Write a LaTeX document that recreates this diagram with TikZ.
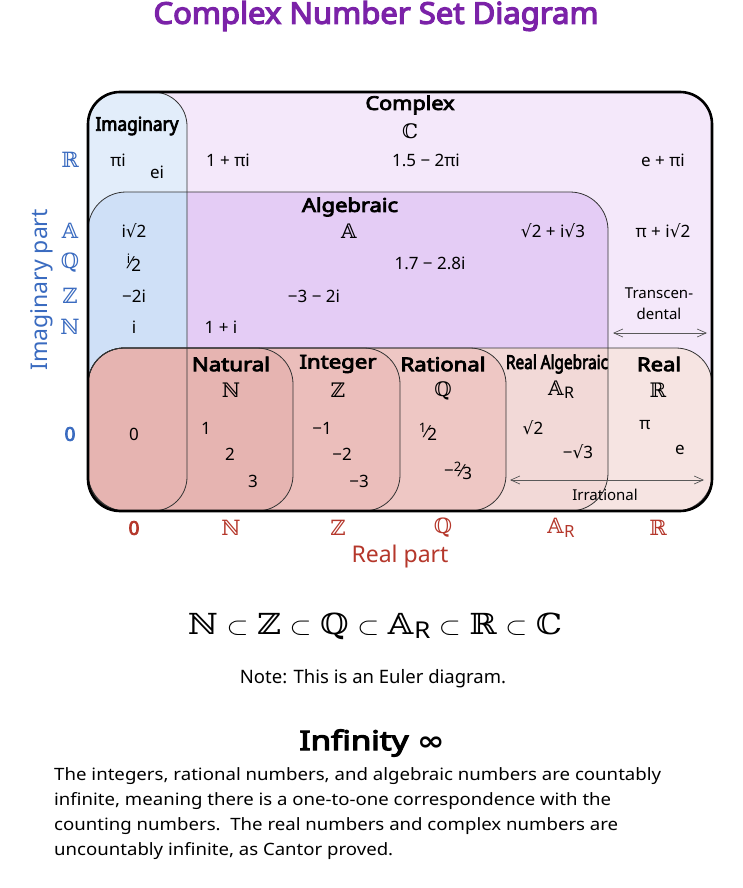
\documentclass[tikz,border=0pt]{standalone}
\usepackage{fontspec}
\usepackage{graphicx}
\setmainfont{Noto Sans}[AutoFakeBold=4]
\newfontfamily\djv{DejaVu Sans}
\newfontfamily\djs{DejaVu Serif}
\usetikzlibrary{arrows.meta}
\definecolor{titlec}{HTML}{7B22A8}
\definecolor{axisb}{HTML}{3A6BC0}
\definecolor{axisr}{HTML}{B5372B}
\definecolor{cplx}{HTML}{F4E8FA}
\definecolor{alg}{HTML}{E4CCF5}
\definecolor{imag}{HTML}{E2EDFA}
\definecolor{imagalg}{HTML}{CFE0F7}
\definecolor{realT}{HTML}{F6E4E2}
\definecolor{realA}{HTML}{F2D9D7}
\definecolor{ratc}{HTML}{EEC7C4}
\definecolor{intc}{HTML}{EBBEBB}
\definecolor{natc}{HTML}{E6B4B1}
\newcommand\sq{{\djv √}}
\newcommand\hw[2]{\resizebox{#1}{\height}{#2}}
\newcommand\vfr[2]{\raisebox{0.5ex}{\fontsize{13}{13}\selectfont #1}\kern-0.8pt{\djv\fontsize{16}{16}\selectfont ⁄}\kern-0.8pt\raisebox{-0.35ex}{\fontsize{17}{17}\selectfont #2}}
\newcommand\bN{{\djs ℕ}}
\newcommand\bZ{{\djs ℤ}}
\newcommand\bQ{{\djs ℚ}}
\newcommand\bR{{\djs ℝ}}
\newcommand\bC{{\djs ℂ}}
\newcommand\bA{{\djs 𝔸}}
\newcommand\AR{\bA\kern0.5pt\raisebox{-0.3ex}{\fontsize{0.8em}{1em}\selectfont\mdseries R}}
\tikzset{
  lbl/.style={font=\fontsize{17}{20}\selectfont, inner sep=0pt},
  hdr/.style={font=\fontsize{19}{22}\selectfont\bfseries, inner sep=0pt},
  bbs/.style={font=\fontsize{20}{22}\selectfont, inner sep=0pt},
  bax/.style={font=\fontsize{21}{23}\selectfont, inner sep=0pt, text=axisb},
  rax/.style={font=\fontsize{21}{23}\selectfont, inner sep=0pt, text=axisr},
  para/.style={font=\fontsize{17}{20}\selectfont, inner sep=0pt, anchor=base west},
  edge/.style={draw=black!80, line width=0.8pt},
  dbl/.style={draw=black!65, line width=0.7pt, {Straight Barb[length=9pt,width=8pt]}-{Straight Barb[length=9pt,width=8pt]}},
}
\begin{document}
\begin{tikzpicture}[x=1pt,y=-1pt]
\useasboundingbox (0,0) rectangle (742,888);
\fill[white] (0,0) rectangle (742,888);

% fills
\fill[cplx, rounded corners=32pt] (88,92) rectangle (712,511);
\fill[alg, rounded corners=38pt] (88,192) rectangle (608,511);
\fill[imag, rounded corners=34pt] (88,92) rectangle (187,511);
\begin{scope}
  \clip[rounded corners=38pt] (88,192) rectangle (608,511);
  \fill[imagalg, rounded corners=34pt] (88,92) rectangle (187,511);
\end{scope}
\fill[realT, rounded corners=36pt] (88,348) rectangle (712,511);
\begin{scope}
  \clip[rounded corners=38pt] (88,192) rectangle (608,511);
  \fill[realA, rounded corners=36pt] (88,348) rectangle (712,511);
\end{scope}
\fill[ratc, rounded corners=36pt] (88,348) rectangle (506,511);
\fill[intc, rounded corners=36pt] (88,348) rectangle (400,511);
\fill[natc, rounded corners=36pt] (88,348) rectangle (293,511);

% outlines
\draw[edge, rounded corners=36pt] (88,348) rectangle (506,511);
\draw[edge, rounded corners=36pt] (88,348) rectangle (400,511);
\draw[edge, rounded corners=36pt] (88,348) rectangle (293,511);
\draw[edge, rounded corners=36pt] (88,348) rectangle (712,511);
\draw[edge, rounded corners=38pt] (88,192) rectangle (608,511);
\draw[edge, rounded corners=34pt] (88,92) rectangle (187,511);
\draw[black, line width=2.6pt, rounded corners=32pt] (88,92) rectangle (712,511);

% title
\node[font=\fontsize{30}{34}\selectfont\bfseries, text=titlec, inner sep=0pt] (title) at (376,16) {\hw{445pt}{Complex Number Set Diagram}};

% headers
\node[hdr] (hC) at (410,105) {\hw{89pt}{Complex}};
\node[bbs] (sC) at (410,131) {\bC};
\node[hdr] (hI) at (137,126) {\hw{83pt}{Imaginary}};
\node[hdr] (hA) at (350,207) {\hw{96pt}{Algebraic}};
\node[bbs] (sA) at (349,231) {\bA};
\node[hdr] (hN) at (231,364) {\hw{78pt}{Natural}};
\node[bbs] (sN) at (231,390) {\bN};
\node[hdr] (hZ) at (338,364) {\hw{77pt}{Integer}};
\node[bbs] (sZ) at (338,390) {\bZ};
\node[hdr] (hQ) at (443,364) {\hw{85pt}{Rational}};
\node[bbs] (sQ) at (443,391) {\bQ};
\node[hdr] (hAR) at (557,364) {\hw{102pt}{Real Algebraic}};
\node[bbs] (sAR) at (561,390) {\AR};
\node[hdr] (hR) at (659,364) {\hw{44pt}{Real}};
\node[bbs] (sR) at (658,390) {\bR};

% members
\node[lbl] (m1) at (118,160) {πi};
\node[lbl] (m2) at (157,172) {ei};
\node[lbl] (m3) at (228,160) {1 + πi};
\node[lbl] (m4) at (426,160) {1.5 − 2πi};
\node[lbl] (m5) at (663,160) {e + πi};
\node[lbl] (m6) at (553,231) {\sq2 + i\sq3};
\node[lbl] (m7) at (663,231) {π + i\sq2};
\node[lbl] (m8) at (430,263) {1.7 − 2.8i};
\node[lbl] (m9) at (314,296) {−3 − 2i};
\node[lbl] (m10) at (134,231) {i\sq2};
\node[lbl] (m11) at (134,263) {\vfr{i}{2}};
\node[lbl] (m12) at (134,296) {−2i};
\node[lbl] (m13) at (134,327) {i};
\node[lbl] (m14) at (221,327) {1 + i};
\node[lbl] (m15) at (134,434) {0};
\node[lbl] (m16) at (206,428) {1};
\node[lbl] (m17) at (230,454) {2};
\node[lbl] (m18) at (253,481) {3};
\node[lbl] (m19) at (322,428) {−1};
\node[lbl] (m20) at (342,454) {−2};
\node[lbl] (m21) at (359,481) {−3};
\node[lbl] (m22) at (428,432) {\vfr{1}{2}};
\node[lbl] (m23) at (458,471) {−\vfr{2}{3}};
\node[lbl] (m24) at (533,428) {\sq2};
\node[lbl] (m25) at (578,452) {−\sq3};
\node[lbl] (m26) at (645,425) {π};
\node[lbl] (m27) at (680,450) {e};

% transcendental / irrational
\node[font=\fontsize{15}{17}\selectfont, align=center, inner sep=0pt] (tt) at (659,304) {Transcen-\\[4pt]dental};
\coordinate (tl) at (613,333);
\coordinate (tr) at (707,333);
\draw[dbl] (tl) -- (tr);
\coordinate (il) at (510,480);
\coordinate (ir) at (704,480);
\draw[dbl] (il) -- (ir);
\node[font=\fontsize{15}{17}\selectfont, inner sep=0pt] (irr) at (605,495) {Irrational};

% imaginary axis
\node[bax] (yR) at (70,160) {\bR};
\node[bax] (yA) at (70,231) {\bA};
\node[bax] (yQ) at (70,263) {\bQ};
\node[bax] (yZ) at (70,296) {\bZ};
\node[bax] (yN) at (70,327) {\bN};
\node[bax, font=\fontsize{19}{22}\selectfont\bfseries] (y0) at (70,434) {0};
\node[bax, font=\fontsize{23}{26}\selectfont, rotate=90] (ylab) at (42,290) {Imaginary part};

% real axis
\node[rax, font=\fontsize{19}{22}\selectfont\bfseries] (x0) at (134,528) {0};
\node[rax] (xN) at (231,528) {\bN};
\node[rax] (xZ) at (338,528) {\bZ};
\node[rax] (xQ) at (443,528) {\bQ};
\node[rax] (xAR) at (561,528) {\AR};
\node[rax] (xR) at (658,528) {\bR};
\node[rax, font=\fontsize{23}{26}\selectfont] (xlab) at (400,557) {Real part};

% chain
\node[font=\fontsize{29}{32}\selectfont, inner sep=0pt] (chain) at (375,626) {\hw{374pt}{\bN\ $\subset$ \bZ\ $\subset$ \bQ\ $\subset$ \AR\ $\subset$ \bR\ $\subset$ \bC}};
\node[font=\fontsize{18.5}{21}\selectfont, inner sep=0pt] (note) at (373,679) {Note: This is an Euler diagram.};

% infinity
\node[font=\fontsize{27}{30}\selectfont\bfseries, inner sep=0pt] (inf) at (372,743) {\hw{145pt}{Infinity {\djv\bfseries ∞}}};
\node[para] (p1) at (54,780) {\hw{607pt}{The integers, rational numbers, and algebraic numbers are countably}};
\node[para] (p2) at (54,805) {\hw{557pt}{infinite, meaning there is a one-to-one correspondence with the}};
\node[para] (p3) at (54,830) {\hw{564pt}{counting numbers.\ \ The real numbers and complex numbers are}};
\node[para] (p4) at (54,855) {\hw{339pt}{uncountably infinite, as Cantor proved.}};
\end{tikzpicture}
\end{document}
